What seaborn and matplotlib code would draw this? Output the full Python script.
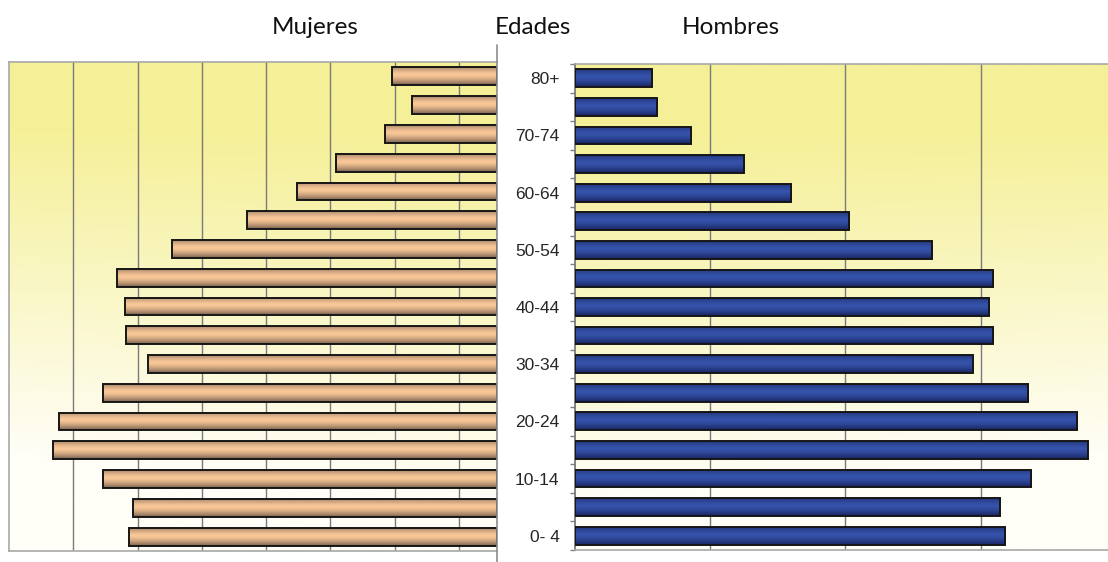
import numpy as np
import pandas as pd
import matplotlib
matplotlib.use("Agg")
import matplotlib.pyplot as plt
from matplotlib.lines import Line2D
from matplotlib.colors import to_rgb
import seaborn as sns

# Grupos de edad (de mayor a menor) y porcentaje de población por sexo
edades = ["80+", "75-79", "70-74", "65-69", "60-64", "55-59", "50-54", "45-49",
          "40-44", "35-39", "30-34", "25-29", "20-24", "15-19", "10-14", "5-9", "0- 4"]
mujeres = [0.81, 0.66, 0.87, 1.25, 1.55, 1.94, 2.52, 2.95, 2.89, 2.88, 2.71,
           3.06, 3.40, 3.45, 3.06, 2.83, 2.86]
hombres = [0.57, 0.61, 0.86, 1.25, 1.60, 2.03, 2.64, 3.09, 3.06, 3.09, 2.94,
           3.35, 3.71, 3.79, 3.37, 3.14, 3.18]
etiquetas = [e if i % 2 == 0 else "" for i, e in enumerate(edades)]

df = pd.DataFrame({"edad": edades, "mujeres": mujeres, "hombres": hombres})

sns.set_theme(style="white")
plt.rcParams["font.family"] = ["Liberation Sans", "DejaVu Sans"]

W, H = 1108, 562
fig = plt.figure(figsize=(W / 100, H / 100), dpi=100)
fig.patch.set_facecolor("white")


def fx(px):
    return px / W


def fy(px):
    return 1 - px / H


ax_m = fig.add_axes([fx(9), fy(551), fx(496.5) - fx(9), fy(62) - fy(551)])
ax_h = fig.add_axes([fx(574.7), fy(550), 1 - fx(574.7), fy(64) - fy(550)])

XMAX_M = 3.791
XMAX_H = 3.94

amarillo = np.array(to_rgb("#F5F098"))
blanco = np.array(to_rgb("#FFFEF7"))


def fondo(ax, espejo):
    ny, nx = 300, 300
    yy = np.linspace(1, 0, ny)[:, None]          # 1 arriba, 0 abajo
    xx = np.linspace(0, 1, nx)[None, :]
    h = (1 - xx) if espejo else xx               # 0 junto al eje central
    t = yy - 0.12 * h * (1 - yy)
    w = np.clip((t - 0.1) / 0.75, 0, 1)
    img = blanco + (amarillo - blanco) * w[..., None]
    ax.imshow(img, extent=(0, 1, 0, 1), transform=ax.transAxes,
              aspect="auto", zorder=-2, interpolation="bilinear")


def barras_sombreadas(ax, base, oscuro):
    base = np.array(to_rgb(base))
    oscuro = np.array(to_rgb(oscuro))
    s = np.linspace(0, 1, 60)
    k = np.clip(np.abs((s - 0.42) / 0.58), 0, 1) ** 1.5
    grad = base + (oscuro - base) * k[:, None]
    grad = np.repeat(grad[:, None, :], 2, axis=1)
    for p in list(ax.patches):
        x0, y0 = p.get_x(), p.get_y()
        w, h = p.get_width(), p.get_height()
        im = ax.imshow(grad, origin="lower", extent=(x0, x0 + w, y0, y0 + h),
                       aspect="auto", zorder=2.5, interpolation="bilinear")
        im.set_clip_path(p)
        p.set_facecolor("none")
        p.set_edgecolor("#161616")
        p.set_linewidth(1.4)
        p.set_zorder(3)


# Mujeres (izquierda)
sns.barplot(data=df, y="edad", x="mujeres", orient="h", ax=ax_m,
            color="#F8C595", width=0.62, order=edades)
barras_sombreadas(ax_m, "#FAC898", "#76604f")
fondo(ax_m, espejo=True)
ax_m.set_xlim(XMAX_M, 0)
ax_m.set_ylim(len(edades) - 0.5, -0.5)
ax_m.set_xticks(np.arange(XMAX_M - 0.5, 0, -0.5))
ax_m.set_yticks([])
ax_m.tick_params(axis="x", length=0, labelbottom=False)
ax_m.grid(axis="x", color="#7a7a7a", linewidth=1.0)
ax_m.set_axisbelow(True)
ax_m.set_xlabel("")
ax_m.set_ylabel("")
for lado in ["left", "top", "bottom"]:
    ax_m.spines[lado].set_color("#a8a8a8")
    ax_m.spines[lado].set_linewidth(1.2)
ax_m.spines["right"].set_visible(False)

# Hombres (derecha)
sns.barplot(data=df, y="edad", x="hombres", orient="h", ax=ax_h,
            color="#3350A6", width=0.62, order=edades)
barras_sombreadas(ax_h, "#3553AA", "#18235e")
fondo(ax_h, espejo=False)
ax_h.set_xlim(0, XMAX_H)
ax_h.set_ylim(len(edades) - 0.5, -0.5)
ax_h.set_xticks([1, 2, 3])
ax_h.tick_params(axis="x", length=0, labelbottom=False)
ax_h.grid(axis="x", color="#7a7a7a", linewidth=1.0)
ax_h.set_axisbelow(True)
ax_h.set_yticks(np.arange(-0.5, len(edades), 1.0))
ax_h.set_yticklabels([])
ax_h.set_yticks(np.arange(len(edades)), minor=True)
ax_h.set_yticklabels(etiquetas, minor=True, fontsize=12.5, color="#262626")
ax_h.tick_params(axis="y", which="major", length=3.5, width=1.0,
                 color="#808080", direction="out", left=True)
ax_h.tick_params(axis="y", which="minor", length=0, pad=11, left=True)
ax_h.set_xlabel("")
ax_h.set_ylabel("")
ax_h.spines["left"].set_color("#7a7a7a")
ax_h.spines["left"].set_linewidth(1.3)
for lado in ["top", "bottom"]:
    ax_h.spines[lado].set_color("#a8a8a8")
    ax_h.spines[lado].set_linewidth(1.2)
ax_h.spines["right"].set_visible(False)

# Línea central que separa la pirámide
fig.add_artist(Line2D([fx(496.5), fx(496.5)], [fy(45), fy(562)],
                      color="#8c8c8c", linewidth=1.2))

# Encabezados
tit = dict(fontsize=17.5, color="#111111", family=["Lato", "DejaVu Sans"],
           fontweight="normal", ha="center", va="center")
fig.text(fx(315), fy(28), "Mujeres", **tit)
fig.text(fx(533), fy(28), "Edades", **tit)
fig.text(fx(731), fy(28), "Hombres", **tit)

fig.savefig("out.png", dpi=100, facecolor="white")
